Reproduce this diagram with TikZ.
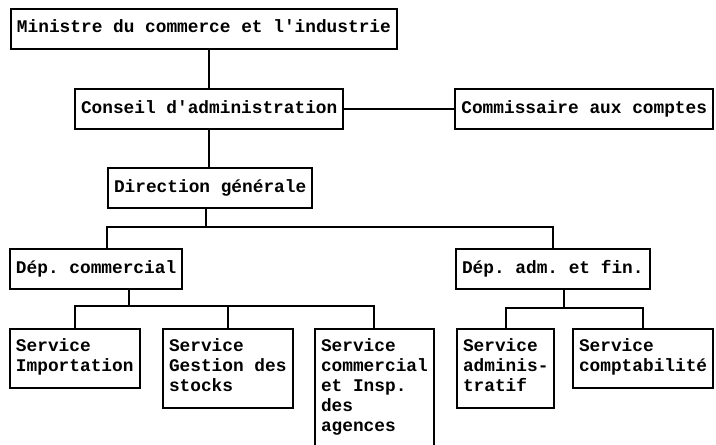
\documentclass[tikz,border=0pt]{standalone}
\usepackage{fontspec}
\setmonofont{Liberation Mono}
\usetikzlibrary{positioning}

\begin{document}
\begin{tikzpicture}[
    x=0.5pt, y=-0.5pt,
    orgbox/.style={draw, line width=1pt, anchor=north west, align=left,
                   font=\ttfamily\bfseries\fontsize{8.9}{10}\selectfont,
                   inner xsep=3pt, inner ysep=5pt,
                   execute at begin node=\strut, execute at end node=\strut},
    link/.style={line width=1pt},
]
\useasboundingbox (0,0) rectangle (716,444);

\node[orgbox] (mini) at (10,8) {Ministre du commerce et l'industrie};
\node[orgbox] (cons) at (74,88) {Conseil d'administration};
\node[orgbox, right=55pt of cons] (comm) {Commissaire aux comptes};
\node[orgbox] (dir) at (107,167) {Direction générale};

\node[orgbox] (depc) at (9,248) {Dép. commercial};
\node[orgbox] (depa) at (455,248) {Dép. adm. et fin.};

\node[orgbox] (simp) at (9,328) {Service\\Importation};
\node[orgbox] (sges) at (162,328) {Service\\Gestion des\\stocks};
\node[orgbox] (scom) at (314,328) {Service\\commercial\\et Insp.\\des\\agences};
\node[orgbox] (sadm) at (456,328) {Service\\adminis-\\tratif};
\node[orgbox] (scpt) at (572,328) {Service\\comptabilité};

\coordinate (busd) at (206,227);
\coordinate (busc) at (129,306);
\coordinate (busa) at (564,308);

\draw[link] (cons.north) -- (cons.north |- mini.south);
\draw[link] (cons.south) -- (cons.south |- dir.north);
\draw[link] (cons.east) -- (comm.west);

\draw[link] (dir.south -| busd) -- (busd);
\draw[link] (dir.south west |- depc.north) -- (dir.south west |- busd)
    -- (depa.north |- busd) -- (depa.north);

\draw[link] (depc.south -| busc) -- (busc);
\draw[link] (simp.north) -- (simp.north |- busc) -- (scom.north |- busc) -- (scom.north);
\draw[link] (sges.north) -- (sges.north |- busc);

\draw[link] (depa.south -| busa) -- (busa);
\draw[link] (sadm.north) -- (sadm.north |- busa) -- (scpt.north |- busa) -- (scpt.north);
\end{tikzpicture}
\end{document}
